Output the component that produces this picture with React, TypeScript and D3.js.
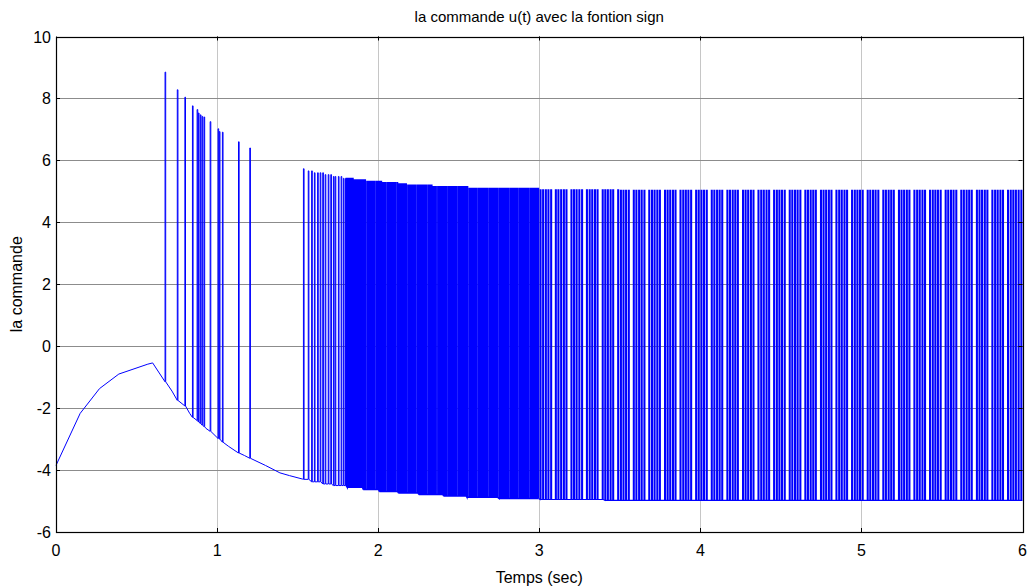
import React from "react";
import * as d3 from "d3";

// ---- data ----
const xTicks = [0, 1, 2, 3, 4, 5, 6];
const yTicks = [-6, -4, -2, 0, 2, 4, 6, 8, 10];

// smooth / decaying part of the control signal (before chattering)
const baseT = [0, 0.15, 0.27, 0.39, 0.57, 0.6, 0.72, 0.83, 0.93, 1.07, 1.17, 1.3, 1.39, 1.45, 1.53];
const baseU = [-3.85, -2.17, -1.37, -0.9, -0.58, -0.54, -1.45, -2.17, -2.65, -3.23, -3.53, -3.85, -4.09, -4.18, -4.29];

// isolated early spikes: time, low value, peak value
const spikeT = [0.677, 0.753, 0.8, 0.847, 0.876, 0.884, 0.896, 0.907, 0.919, 0.957, 1.006, 1.014, 1.033, 1.133, 1.203];
const spikeLow = [-1.15, -1.75, -1.93, -2.3, -2.4, -2.45, -2.5, -2.55, -2.6, -2.75, -2.98, -3.0, -3.1, -3.45, -3.62];
const spikeTop = [8.85, 8.28, 8.04, 7.76, 7.64, 7.53, 7.47, 7.42, 7.4, 7.25, 7.02, 6.93, 6.91, 6.6, 6.4];

// chattering pulses (ms): rising instants of the sign switching
const pulseMs = [
  1536, 1566, 1587, 1604, 1624, 1640, 1656, 1671, 1690, 1706, 1722, 1733, 1753, 1770, 1784, 1797, 1808, 1820, 1831, 1840, 1851, 1860,
  1870, 1879, 1888, 1898, 1907, 1916, 1930, 1939, 1948, 1957, 1966, 1975, 1989, 1998, 2007, 2016, 2025, 2034, 2043, 2057, 2066, 2075,
  2084, 2093, 2102, 2116, 2125, 2134, 2143, 2152, 2161, 2170, 2184, 2193, 2202, 2211, 2220, 2229, 2243, 2252, 2261, 2270, 2279, 2288,
  2297, 2311, 2320, 2329, 2338, 2347, 2356, 2370, 2379, 2388, 2397, 2406, 2415, 2424, 2438, 2447, 2456, 2465, 2474, 2483, 2497, 2506,
  2515, 2524, 2533, 2542, 2551, 2565, 2574, 2583, 2592, 2601, 2610, 2624, 2633, 2642, 2651, 2660, 2669, 2678, 2692, 2701, 2710, 2719,
  2728, 2737, 2751, 2760, 2769, 2778, 2787, 2796, 2805, 2819, 2828, 2837, 2846, 2855, 2864, 2878, 2887, 2896, 2905, 2914, 2923, 2932,
  2946, 2955, 2964, 2973, 2982, 2991,
  3005, 3021, 3038, 3054, 3071, 3100, 3116, 3133, 3150, 3166, 3197, 3213, 3229, 3246, 3263, 3293, 3310, 3326, 3343, 3359,
  3391, 3407, 3423, 3440, 3456, 3487, 3504, 3520, 3536, 3553, 3584, 3600, 3617, 3633, 3650, 3680, 3697, 3713, 3730, 3746,
  3778, 3794, 3810, 3827, 3843, 3874, 3891, 3907, 3923, 3940, 3971, 3987, 4004, 4020, 4037, 4068, 4084, 4101, 4117, 4133,
  4165, 4181, 4198, 4214, 4230, 4262, 4278, 4294, 4311, 4327, 4358, 4375, 4391, 4408, 4424, 4455, 4472, 4488, 4504, 4521,
  4552, 4568, 4585, 4601, 4618, 4649, 4665, 4682, 4698, 4714, 4746, 4762, 4778, 4795, 4811, 4842, 4859, 4875, 4892, 4908,
  4939, 4956, 4972, 4988, 5005, 5036, 5052, 5069, 5085, 5102, 5133, 5149, 5166, 5182, 5198, 5230, 5246, 5262, 5279, 5295,
  5326, 5343, 5359, 5376, 5392, 5423, 5440, 5456, 5472, 5489, 5520, 5536, 5553, 5569, 5586, 5617, 5633, 5650, 5666, 5682,
  5714, 5730, 5746, 5763, 5779, 5810, 5827, 5843, 5860, 5876, 5907, 5924, 5940, 5956, 5973, 5990,
];
// duration (ms) of the high state, by phase (holds from the given time on)
const widthStepT = [1.5, 1.86, 3.0];
const widthStepMs = [4, 4.5, 6];
// phase boundaries (s): the dense middle phase renders as an almost solid band
const densePhase = [1.8, 3.0];

// envelope levels of the chattering (level holds from the given time on)
const topStepT = [1.53, 1.56, 1.6, 1.66, 1.72, 1.78, 1.85, 1.93, 2.02, 2.12, 2.18, 2.33, 2.56, 3.0, 3.5];
const topStepU = [5.73, 5.66, 5.6, 5.54, 5.48, 5.42, 5.37, 5.32, 5.28, 5.24, 5.2, 5.15, 5.09, 5.05, 5.03];
const lowStepT = [1.53, 1.58, 1.65, 1.72, 1.8, 1.9, 2.0, 2.12, 2.25, 2.4, 2.55, 2.75, 3.0, 3.4];
const lowStepU = [-4.3, -4.38, -4.45, -4.5, -4.56, -4.63, -4.69, -4.74, -4.79, -4.84, -4.88, -4.92, -4.95, -4.98];

const W = 1029;
const H = 588;
const FONT = "'Liberation Sans', Arial, Helvetica, sans-serif";

function stepLookup(ts: number[], us: number[], t: number) {
  let v = us[0];
  for (let i = 0; i < ts.length; i++) if (t >= ts[i]) v = us[i];
  return v;
}

export default function App() {
  const x = d3.scaleLinear().domain([0, 6]).range([56, 1022.5]);
  const y = d3.scaleLinear().domain([-6, 10]).range([532, 36.5]);

  // build the signal
  const pts: [number, number][] = [];
  const seq: { t: number; p: [number, number][] }[] = [];
  baseT.forEach((t, i) => seq.push({ t, p: [[t, baseU[i]]] }));
  const w = 0.004;
  spikeT.forEach((t, i) =>
    seq.push({
      t,
      p: [
        [t, spikeLow[i]],
        [t, spikeTop[i]],
        [t + w, spikeTop[i]],
        [t + w, spikeLow[i]],
      ],
    })
  );
  seq.sort((a, b) => a.t - b.t);
  seq.forEach((s) => s.p.forEach((p) => pts.push(p)));
  pulseMs.forEach((ms) => {
    const t = ms / 1000;
    const lo = stepLookup(lowStepT, lowStepU, t);
    const hi = stepLookup(topStepT, topStepU, t);
    const pw = stepLookup(widthStepT, widthStepMs, t) / 1000;
    pts.push([t, lo], [t, hi], [t + pw, hi], [t + pw, lo]);
  });
  pts.push([6, stepLookup(lowStepT, lowStepU, 6)]);

  // split into phases (sharing the boundary points so the path stays continuous)
  const partA: [number, number][] = [];
  const partB: [number, number][] = [];
  const partC: [number, number][] = [];
  pts.forEach((p, i) => {
    if (p[0] < densePhase[0]) partA.push(p);
    else if (p[0] < densePhase[1]) {
      if (partB.length === 0 && i > 0) partB.push(pts[i - 1]);
      partB.push(p);
    } else {
      if (partC.length === 0 && i > 0) partC.push(pts[i - 1]);
      partC.push(p);
    }
  });

  const line = d3
    .line<[number, number]>()
    .x((d) => x(d[0]))
    .y((d) => y(d[1]));

  const left = x(0);
  const right = x(6);
  const top = y(10);
  const bottom = y(-6);
  const tickLen = 4;

  return (
    <svg
      width={W}
      height={H}
      style={{ position: "absolute", left: 0, top: 0, background: "#fff" }}
      fontFamily={FONT}
    >
      <rect x={0} y={0} width={W} height={H} fill="#fff" />
      {/* grid */}
      {xTicks.slice(1, -1).map((t) => (
        <line key={"gx" + t} x1={Math.round(x(t)) + 0.5} x2={Math.round(x(t)) + 0.5} y1={top} y2={bottom} stroke="#8c8c8c" strokeWidth={1} strokeDasharray="1,1" />
      ))}
      {yTicks.slice(1, -1).map((t) => (
        <line key={"gy" + t} x1={left} x2={right} y1={Math.round(y(t)) + 0.5} y2={Math.round(y(t)) + 0.5} stroke="#8c8c8c" strokeWidth={1} />
      ))}
      {/* signal */}
      <path d={line(partA) || ""} fill="none" stroke="#0000ff" strokeWidth={1} />
      <path d={line(partB) || ""} fill="none" stroke="#0000ff" strokeWidth={1.4} />
      <path d={line(partC) || ""} fill="none" stroke="#0000ff" strokeWidth={1.1} />
      {/* box */}
      <rect x={Math.round(left) + 0.5} y={Math.round(top) + 0.5} width={Math.round(right) - Math.round(left)} height={Math.round(bottom) - Math.round(top)} fill="none" stroke="#000" strokeWidth={1.2} />
      {/* ticks */}
      {xTicks.map((t) => (
        <g key={"tx" + t}>
          <line x1={Math.round(x(t)) + 0.5} x2={Math.round(x(t)) + 0.5} y1={bottom} y2={bottom - tickLen} stroke="#000" />
          <line x1={Math.round(x(t)) + 0.5} x2={Math.round(x(t)) + 0.5} y1={top} y2={top + tickLen} stroke="#000" />
          <text x={x(t)} y={556} fontSize={16} textAnchor="middle" fill="#000">
            {t}
          </text>
        </g>
      ))}
      {yTicks.map((t) => (
        <g key={"ty" + t}>
          <line x1={left} x2={left + tickLen} y1={Math.round(y(t)) + 0.5} y2={Math.round(y(t)) + 0.5} stroke="#000" />
          <line x1={right} x2={right - tickLen} y1={Math.round(y(t)) + 0.5} y2={Math.round(y(t)) + 0.5} stroke="#000" />
          <text x={51} y={y(t) + 6} fontSize={16} textAnchor="end" fill="#000">
            {t}
          </text>
        </g>
      ))}
      {/* labels */}
      <text x={(left + right) / 2} y={22} fontSize={15} textAnchor="middle" fill="#000">
        la commande u(t) avec la fontion sign
      </text>
      <text x={(left + right) / 2} y={583} fontSize={16} textAnchor="middle" fill="#000">
        Temps (sec)
      </text>
      <text transform={`translate(22,${(top + bottom) / 2}) rotate(-90)`} fontSize={16} textAnchor="middle" fill="#000">
        la commande
      </text>
    </svg>
  );
}
